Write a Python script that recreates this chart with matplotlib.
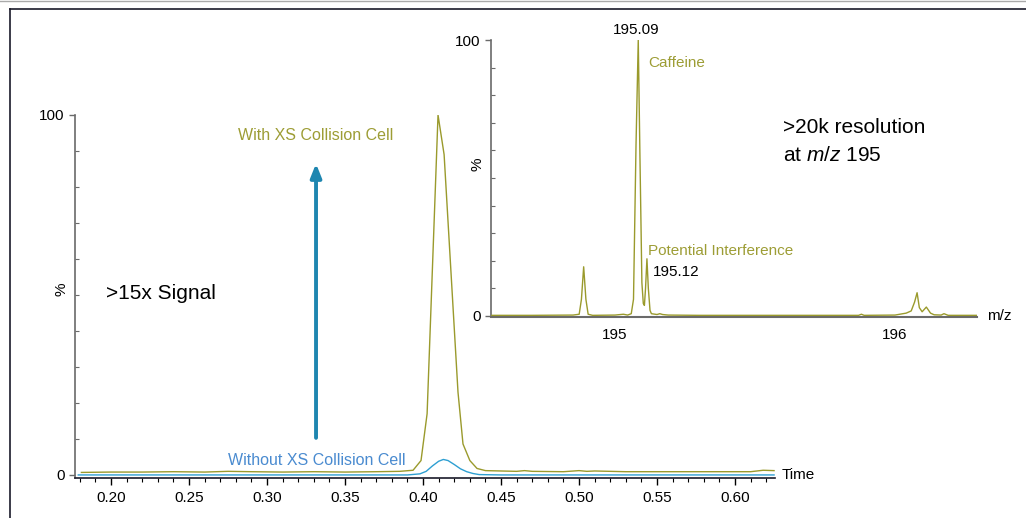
"""Chromatogram with / without XS collision cell, plus inset mass spectrum"""

import matplotlib
matplotlib.use("Agg")
import matplotlib.pyplot as plt
from matplotlib.ticker import MultipleLocator, FixedLocator
from matplotlib.lines import Line2D

plt.rcParams['font.family'] = ['Liberation Sans', 'DejaVu Sans']
plt.rcParams['mathtext.fontset'] = 'custom'
plt.rcParams['mathtext.it'] = 'Liberation Sans:italic'
plt.rcParams['mathtext.rm'] = 'Liberation Sans'

# chromatogram, with XS collision cell (time in min, % intensity)
time_with = [0.181, 0.20, 0.22, 0.24, 0.26, 0.275, 0.29, 0.31, 0.33, 0.35, 0.37,
             0.385, 0.3936, 0.3987, 0.4026, 0.4096, 0.4135, 0.4224, 0.4256,
             0.430, 0.4346, 0.440, 0.450, 0.460, 0.465, 0.470, 0.490, 0.500,
             0.505, 0.510, 0.530, 0.560, 0.590, 0.610, 0.618, 0.625]
signal_with = [0.7, 0.8, 0.8, 0.9, 0.8, 1.0, 0.9, 0.8, 0.9, 0.8, 0.9,
               1.0, 1.3, 4.0, 17.0, 100.0, 89.0, 23.0, 8.6,
               4.0, 1.8, 1.2, 1.1, 1.0, 1.2, 1.0, 0.9, 1.2,
               1.0, 1.1, 0.9, 0.9, 0.9, 0.9, 1.3, 1.2]

# chromatogram, without XS collision cell
time_without = [0.179, 0.25, 0.33, 0.39, 0.398, 0.402, 0.406, 0.410, 0.413,
                0.416, 0.420, 0.424, 0.428, 0.432, 0.436, 0.45, 0.55, 0.625]
signal_without = [0.0, 0.0, 0.0, 0.0, 0.3, 1.0, 2.5, 3.8, 4.3,
                  4.0, 2.9, 1.7, 0.9, 0.4, 0.1, 0.0, 0.0, 0.0]

# inset mass spectrum (m/z, % intensity)
mz = [194.56, 194.70, 194.85, 194.872, 194.880, 194.888, 194.896, 194.904, 194.92,
      195.00, 195.03, 195.045, 195.058, 195.066, 195.075, 195.083, 195.089, 195.096,
      195.101, 195.105, 195.109, 195.114, 195.119, 195.125, 195.13, 195.15, 195.16,
      195.17, 195.19, 195.30, 195.50, 195.70, 195.87, 195.88, 195.89, 196.00,
      196.04, 196.058, 196.070, 196.079, 196.087, 196.097, 196.112, 196.127,
      196.14, 196.165, 196.175, 196.19, 196.293]
intensity = [0.2, 0.2, 0.3, 0.6, 6.0, 17.8, 6.0, 0.6, 0.2,
             0.3, 0.6, 0.3, 0.8, 6.0, 62.0, 100.0, 58.0, 12.0,
             4.5, 3.8, 10.0, 20.7, 10.0, 2.0, 0.8, 0.5, 0.8,
             0.5, 0.3, 0.2, 0.2, 0.2, 0.2, 0.6, 0.2, 0.3,
             1.0, 1.8, 5.0, 8.4, 3.0, 1.5, 3.2, 1.0,
             0.4, 0.3, 0.8, 0.2, 0.2]

olive = '#9a9a2c'
olive_text = '#9d9d35'
blue_line = '#2e9fd2'
blue_text = '#4a8bd0'
arrow_col = '#1e86b0'
spine_gray = '#6a6a6a'

fig = plt.figure(figsize=(10.26, 5.18), dpi=100)

# frame lines around the figure
fig.add_artist(Line2D([10 / 1026, 10 / 1026], [0, 1 - 9 / 518], color='#1a1a2a', lw=1.2))
fig.add_artist(Line2D([10 / 1026, 1], [1 - 9 / 518, 1 - 9 / 518], color='#1a1a2a', lw=1.2))
fig.add_artist(Line2D([0, 1], [1 - 1 / 518, 1 - 1 / 518], color='#aaaaaa', lw=1.0))

# main chromatogram
ax = fig.add_axes([75 / 1026, 40 / 518, 700 / 1026, 363 / 518])
ax.plot(time_without, signal_without, color=blue_line, lw=1.0)
ax.plot(time_with, signal_with, color=olive, lw=1.0)
ax.set_xlim(0.1769, 0.6256)
ax.set_ylim(-0.85, 100)
ax.patch.set_alpha(0)
for s in ['top', 'right']:
    ax.spines[s].set_visible(False)
ax.spines['left'].set_color(spine_gray)
ax.spines['left'].set_linewidth(1.2)
ax.spines['bottom'].set_color('#1a1a2a')
ax.spines['bottom'].set_linewidth(1.2)
ax.xaxis.set_major_locator(FixedLocator([0.20, 0.25, 0.30, 0.35, 0.40, 0.45, 0.50, 0.55, 0.60]))
ax.xaxis.set_minor_locator(MultipleLocator(0.01))
ax.set_xticklabels(['0.20', '0.25', '0.30', '0.35', '0.40', '0.45', '0.50', '0.55', '0.60'])
ax.tick_params(axis='x', which='major', length=5, width=1, labelsize=11, pad=4)
ax.tick_params(axis='x', which='minor', length=3, width=0.8)
ax.yaxis.set_major_locator(FixedLocator([0, 100]))
ax.yaxis.set_minor_locator(MultipleLocator(10))
ax.tick_params(axis='y', which='major', length=4, width=1, labelsize=11, color=spine_gray)
ax.tick_params(axis='y', which='minor', direction='in', length=3, width=0.8, color=spine_gray)
ax.set_ylabel('%', fontsize=11)
ax.yaxis.set_label_coords(-0.009, 0.52)
ax.text(0.630, 0.0, 'Time', fontsize=11, va='center', ha='left')

ax.annotate('', xy=(0.3314, 86.5), xytext=(0.3314, 10.3),
            arrowprops=dict(arrowstyle='-|>,head_width=0.32,head_length=0.8',
                            color=arrow_col, lw=2.8, shrinkA=0, shrinkB=0))
ax.text(0.3314, 94.3, 'With XS Collision Cell', color=olive_text, fontsize=11.5,
        ha='center', va='center')
ax.text(0.3318, 4.0, 'Without XS Collision Cell', color=blue_text, fontsize=11.5,
        ha='center', va='center')
ax.text(0.1968, 50.3, '>15x Signal', fontsize=15, ha='left', va='center')

# inset mass spectrum
ins = fig.add_axes([491 / 1026, 201 / 518, 486 / 1026, 277 / 518])
ins.plot(mz, intensity, color=olive, lw=1.0, zorder=3)
ins.set_xlim(194.557, 196.293)
ins.set_ylim(-0.4, 100)
ins.patch.set_alpha(0)
for s in ['top', 'right']:
    ins.spines[s].set_visible(False)
ins.spines['left'].set_color(spine_gray)
ins.spines['left'].set_linewidth(1.2)
ins.spines['bottom'].set_color(spine_gray)
ins.spines['bottom'].set_linewidth(1.5)
ins.xaxis.set_major_locator(FixedLocator([195, 196]))
ins.set_xticklabels(['195', '196'])
ins.tick_params(axis='x', length=0, labelsize=11, pad=8)
ins.yaxis.set_major_locator(FixedLocator([0, 100]))
ins.yaxis.set_minor_locator(MultipleLocator(10))
ins.tick_params(axis='y', which='major', length=4, width=1, labelsize=11, color=spine_gray)
ins.tick_params(axis='y', which='minor', direction='in', length=3, width=0.8, color=spine_gray)
ins.set_ylabel('%', fontsize=11)
ins.yaxis.set_label_coords(-0.014, 0.55)
ins.text(196.33, 0.0, 'm/z', fontsize=11, ha='left', va='center')

ins.text(195.075, 101, '195.09', fontsize=11, ha='center', va='bottom')
ins.text(195.118, 91.8, 'Caffeine', color=olive_text, fontsize=11, ha='left', va='center')
ins.text(195.118, 23.5, 'Potential Interference', color=olive_text, fontsize=11,
         ha='left', va='center')
ins.text(195.135, 16.0, '195.12', fontsize=11, ha='left', va='center')
ins.text(195.60, 68.2, '>20k resolution', fontsize=15, ha='left', va='center')
ins.text(195.60, 58.2, 'at $\\mathit{m/z}$ 195', fontsize=15, ha='left', va='center')

fig.savefig('out.png', dpi=100)
